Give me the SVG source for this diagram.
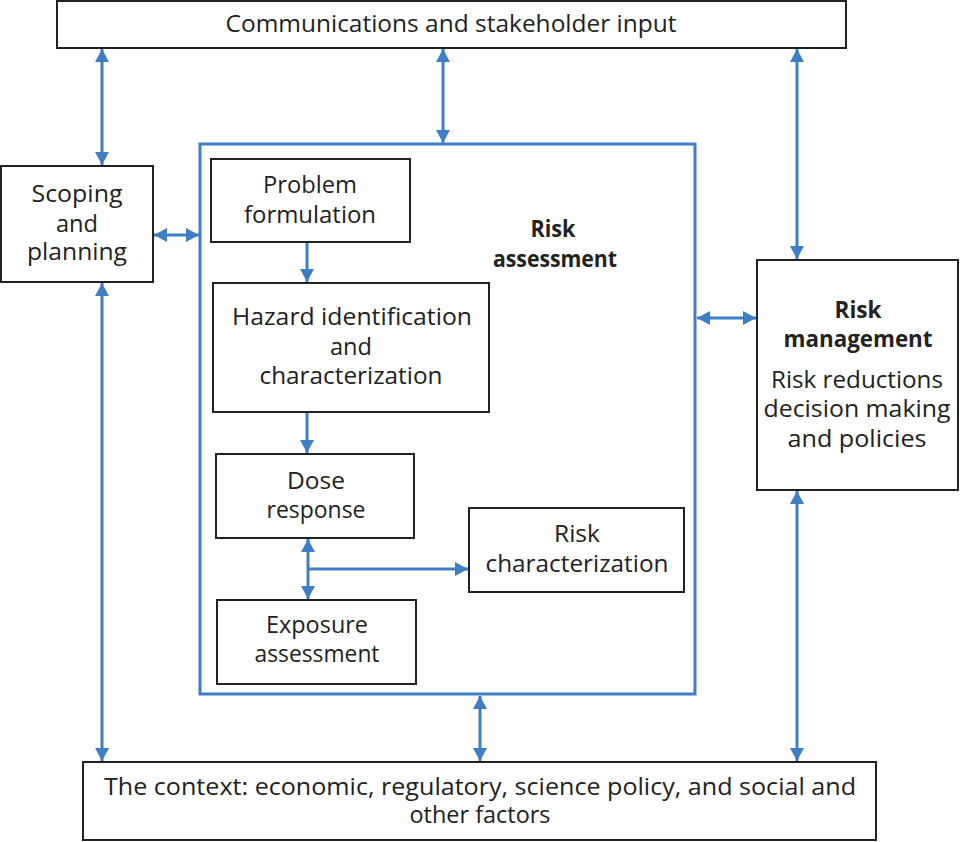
<svg xmlns="http://www.w3.org/2000/svg" width="960" height="842" viewBox="0 0 960 842">
<defs>
<marker id="ah" markerUnits="userSpaceOnUse" markerWidth="14" markerHeight="14" refX="13" refY="7" orient="auto-start-reverse" viewBox="0 0 14 14">
<path d="M0,0 L13,7 L0,14 Z" fill="#3f7ec4"/>
</marker>
<style>
.box{fill:#fff;stroke:#222;stroke-width:2}
.rabox{fill:none;stroke:#3f7ec4;stroke-width:3}
.t{font-family:"Open Sans","DejaVu Sans",sans-serif;font-size:24px;fill:#222;text-anchor:middle}
.b{font-weight:bold}
.c{stroke:#3f7ec4;stroke-width:3;fill:none}
.d{marker-start:url(#ah);marker-end:url(#ah)}
.s{marker-end:url(#ah)}
</style>
</defs>
<rect width="960" height="842" fill="#fff"/>

<g id="communications">
<rect class="box" x="57" y="1" width="789" height="47"/>
<text class="t" x="451" y="32" textLength="451" lengthAdjust="spacingAndGlyphs">Communications and stakeholder input</text>
</g>

<g id="scoping">
<rect class="box" x="1" y="166" width="152" height="116"/>
<text class="t" x="77" y="202" textLength="91" lengthAdjust="spacingAndGlyphs">Scoping</text>
<text class="t" x="77" y="232" textLength="42" lengthAdjust="spacingAndGlyphs">and</text>
<text class="t" x="77" y="260" textLength="100" lengthAdjust="spacingAndGlyphs">planning</text>
</g>

<g id="risk-assessment">
<rect class="rabox" x="200" y="144" width="495" height="550"/>
<text class="t b" x="553" y="237" textLength="45" lengthAdjust="spacingAndGlyphs">Risk</text>
<text class="t b" x="555" y="267" textLength="124" lengthAdjust="spacingAndGlyphs">assessment</text>
</g>

<g id="problem-formulation">
<rect class="box" x="211" y="159" width="199" height="83"/>
<text class="t" x="310" y="193" textLength="94" lengthAdjust="spacingAndGlyphs">Problem</text>
<text class="t" x="310" y="223" textLength="132" lengthAdjust="spacingAndGlyphs">formulation</text>
</g>

<g id="hazard">
<rect class="box" x="213" y="283" width="276" height="129"/>
<text class="t" x="352" y="325" textLength="240" lengthAdjust="spacingAndGlyphs">Hazard identification</text>
<text class="t" x="351" y="355" textLength="42" lengthAdjust="spacingAndGlyphs">and</text>
<text class="t" x="351" y="384" textLength="183" lengthAdjust="spacingAndGlyphs">characterization</text>
</g>

<g id="dose-response">
<rect class="box" x="216" y="454" width="198" height="84"/>
<text class="t" x="316" y="489" textLength="58" lengthAdjust="spacingAndGlyphs">Dose</text>
<text class="t" x="316" y="518" textLength="99" lengthAdjust="spacingAndGlyphs">response</text>
</g>

<g id="risk-characterization">
<rect class="box" x="469" y="508" width="215" height="84"/>
<text class="t" x="577" y="542" textLength="46" lengthAdjust="spacingAndGlyphs">Risk</text>
<text class="t" x="577" y="572" textLength="183" lengthAdjust="spacingAndGlyphs">characterization</text>
</g>

<g id="exposure">
<rect class="box" x="217" y="600" width="199" height="84"/>
<text class="t" x="317" y="633" textLength="102" lengthAdjust="spacingAndGlyphs">Exposure</text>
<text class="t" x="317" y="662" textLength="125" lengthAdjust="spacingAndGlyphs">assessment</text>
</g>

<g id="risk-management">
<rect class="box" x="757" y="260" width="201" height="230"/>
<text class="t b" x="858" y="318" textLength="47" lengthAdjust="spacingAndGlyphs">Risk</text>
<text class="t b" x="858" y="347" textLength="149" lengthAdjust="spacingAndGlyphs">management</text>
<text class="t" x="857" y="388" textLength="172" lengthAdjust="spacingAndGlyphs">Risk reductions</text>
<text class="t" x="857" y="417" textLength="187" lengthAdjust="spacingAndGlyphs">decision making</text>
<text class="t" x="857" y="447" textLength="139" lengthAdjust="spacingAndGlyphs">and policies</text>
</g>

<g id="context">
<rect class="box" x="83" y="762" width="793" height="78"/>
<text class="t" x="480" y="795" textLength="752" lengthAdjust="spacingAndGlyphs">The context: economic, regulatory, science policy, and social and</text>
<text class="t" x="480" y="823" textLength="141" lengthAdjust="spacingAndGlyphs">other factors</text>
</g>

<g id="connectors">
<line class="c d" x1="102" y1="49" x2="102" y2="165"/>
<line class="c d" x1="443" y1="49" x2="443" y2="143"/>
<line class="c d" x1="797" y1="49" x2="797" y2="259"/>
<line class="c d" x1="154" y1="235" x2="199" y2="235"/>
<line class="c s" x1="307" y1="243" x2="307" y2="282"/>
<line class="c s" x1="307" y1="413" x2="307" y2="453"/>
<line class="c d" x1="308" y1="539" x2="308" y2="599"/>
<line class="c s" x1="308" y1="569" x2="468" y2="569"/>
<line class="c d" x1="697" y1="318" x2="756" y2="318"/>
<line class="c d" x1="102" y1="283" x2="102" y2="761"/>
<line class="c d" x1="480" y1="696" x2="480" y2="761"/>
<line class="c d" x1="797" y1="491" x2="797" y2="761"/>
</g>
</svg>
